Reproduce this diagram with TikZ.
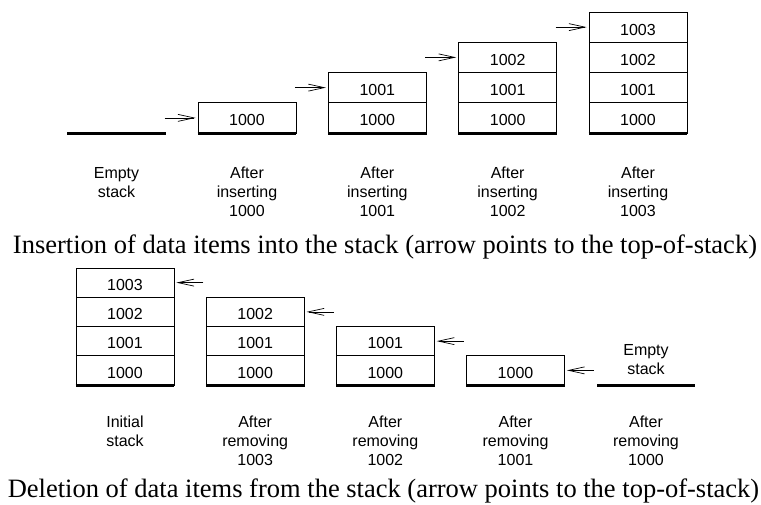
\documentclass[tikz,border=0pt]{standalone}
\usepackage{fontspec}
\setmainfont{Liberation Sans}
\newfontfamily\capfont{Liberation Serif}
\usetikzlibrary{arrows.meta, calc}

\begin{document}
\begin{tikzpicture}[x=1pt, y=-1pt,
        cell/.style={draw, line width=0.8pt, minimum width=98pt, minimum height=30.25pt, inner sep=0pt, text height=16pt, text depth=0pt, font=\fontsize{16}{19}\selectfont},
        stackbase/.style={line width=3.5pt},
        steplabel/.style={align=center, anchor=base, font=\fontsize{16}{19}\selectfont},
        caption/.style={anchor=base, font=\capfont\fontsize{26.5}{30}\selectfont},
        arrow/.style={-{Straight Barb[length=16pt, width=7pt]}, line width=0.7pt, shorten >=2pt}
    ]
        \useasboundingbox (0,0) rectangle (761,504);

        % Insertion: empty stack
        \coordinate (ins0-l) at (67,133.5);
        \coordinate (ins0-r) at (166,133.5);
        \draw[stackbase] (ins0-l) -- (ins0-r);
        \node[steplabel] (ins0-lbl) at (116.5,197) {Empty\\stack};

        % Insertion: stacks after each push
        \foreach \i in {1,...,4} {
            \pgfmathsetmacro\cx{247+130.33*(\i-1)}
            \pgfmathtruncatemacro\top{999+\i}
            \foreach \j in {1,...,\i} {
                \pgfmathtruncatemacro\val{999+\j}
                \node[cell] (ins\i-\j) at (\cx,{133-30.25*(\j-0.5)}) {\val};
            }
            \draw[stackbase] (ins\i-1.south west) -- (ins\i-1.south east);
            \coordinate (ins\i-tail) at ($(ins\i-\i.west)+(-33,0)$);
            \draw[arrow] (ins\i-tail) -- (ins\i-\i.west);
            \node[steplabel] (ins\i-lbl) at (\cx,216) {After\\inserting\\\top};
        }

        \node[caption] (inscap) at (385,253) {Insertion of data items into the stack (arrow points to the top-of-stack)};

        % Deletion: stacks after each pop
        \foreach \k/\txt/\ly in {1/{Initial\\stack}/446, 2/{After\\removing\\1003}/465, 3/{After\\removing\\1002}/465, 4/{After\\removing\\1001}/465} {
            \pgfmathsetmacro\cx{125+130.17*(\k-1)}
            \pgfmathtruncatemacro\n{5-\k}
            \foreach \j in {1,...,\n} {
                \pgfmathtruncatemacro\val{999+\j}
                \node[cell, minimum height=29.25pt, text height=15.5pt] (del\k-\j) at (\cx,{385-29.25*(\j-0.5)}) {\val};
            }
            \draw[stackbase] (del\k-1.south west) -- (del\k-1.south east);
            \coordinate (del\k-tail) at ($(del\k-\n.east)+(29,0)$);
            \draw[arrow] (del\k-tail) -- (del\k-\n.east);
            \node[steplabel] (del\k-lbl) at (\cx,\ly) {\txt};
        }

        % Deletion: empty stack
        \coordinate (del5-l) at (597,385.5);
        \coordinate (del5-r) at (695,385.5);
        \draw[stackbase] (del5-l) -- (del5-r);
        \node[steplabel] (del5-top) at (646,374) {Empty\\stack};
        \node[steplabel] (del5-lbl) at (646,465) {After\\removing\\1000};

        \node[caption] (delcap) at (383.5,497) {Deletion of data items from the stack (arrow points to the top-of-stack)};

    \end{tikzpicture}
\end{document}
